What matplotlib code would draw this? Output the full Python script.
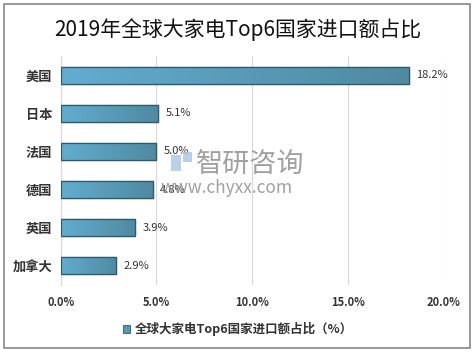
import matplotlib
matplotlib.use("Agg")
import matplotlib.pyplot as plt
from matplotlib.patches import Rectangle
from matplotlib.colors import LinearSegmentedColormap
import numpy as np

plt.rcParams['font.family'] = ['Noto Sans CJK SC', 'DejaVu Sans']

categories = ["美国", "日本", "法国", "德国", "英国", "加拿大"]
values = [18.2, 5.1, 5.0, 4.8, 3.9, 2.9]
labels = ["18.2%", "5.1%", "5.0%", "4.8%", "3.9%", "2.9%"]
xticks = [0, 5, 10, 15, 20]
xticklabels = ["0.0%", "5.0%", "10.0%", "15.0%", "20.0%"]
title = "2019年全球大家电Top6国家进口额占比"
legend_label = "全球大家电Top6国家进口额占比（%）"

fig = plt.figure(figsize=(4.75, 3.53), dpi=100)
fig.patch.set_facecolor("white")
fig.add_artist(Rectangle((0.009, 0.014), 0.981, 0.975, transform=fig.transFigure,
                         fill=False, edgecolor="#888888", linewidth=1.2))

ax = fig.add_axes([0.128, 0.193, 0.805, 0.648])
y = np.arange(len(categories))
bars = ax.barh(y, values, height=0.45, color="#5598b3", edgecolor="#2f5a6e", linewidth=0.9, zorder=3)

grad = np.linspace(0, 1, 256).reshape(1, -1)
cmap = LinearSegmentedColormap.from_list("g", ["#62add0", "#4f8aa0"])
for b in bars:
    x0, y0 = b.get_x(), b.get_y()
    w, h = b.get_width(), b.get_height()
    im = ax.imshow(grad, extent=[x0, x0 + w, y0, y0 + h], aspect="auto", cmap=cmap, zorder=3.5)
    im.set_clip_path(b)
    ax.add_patch(Rectangle((x0, y0), w, h, fill=False, edgecolor="#2f5a6e", linewidth=0.9, zorder=4))

for yi, v, lab in zip(y, values, labels):
    ax.text(v + 0.4, yi, lab, va="center", ha="left", fontsize=8, color="#333333", zorder=5)

ax.set_xlim(0, 20)
ax.set_ylim(len(categories) - 0.5, -0.5)
ax.set_xticks(xticks)
ax.set_xticklabels(xticklabels, fontsize=8, fontweight="bold", color="#333333")
ax.set_yticks(y)
ax.set_yticklabels(categories, fontsize=9.5, fontweight="bold", color="#333333")
ax.tick_params(axis="both", length=0, pad=6)
ax.tick_params(axis="x", pad=8)
ax.grid(axis="x", color="#d9d9d9", linewidth=0.8, zorder=0)
for s in ["top", "right", "bottom"]:
    ax.spines[s].set_visible(False)
ax.spines["left"].set_color("#d9d9d9")

fig.text(0.5, 0.915, title, ha="center", va="center", fontsize=15, color="#111111")

# watermark
fig.add_artist(Rectangle((0.360, 0.515), 0.022, 0.045, transform=fig.transFigure,
                         facecolor="#a9c4e4", edgecolor="none", alpha=0.8, zorder=6))
fig.add_artist(Rectangle((0.386, 0.540), 0.018, 0.030, transform=fig.transFigure,
                         facecolor="#a9c4e4", edgecolor="none", alpha=0.8, zorder=6))
fig.text(0.412, 0.533, "智研咨询", ha="left", va="center", fontsize=19.5, color="#8f8f8f", alpha=0.85, zorder=6)
fig.text(0.338, 0.468, "www.chyxx.com", ha="left", va="center", fontsize=12.5, color="#8f8f8f", alpha=0.85, zorder=6)

# legend
fig.add_artist(Rectangle((0.258, 0.058), 0.016, 0.022, transform=fig.transFigure,
                         facecolor="#5598b3", edgecolor="#2f5a6e", linewidth=0.6))
fig.text(0.283, 0.069, legend_label, ha="left", va="center", fontsize=9, fontweight="bold", color="#333333")

fig.savefig("out.png", dpi=100, facecolor="white")
